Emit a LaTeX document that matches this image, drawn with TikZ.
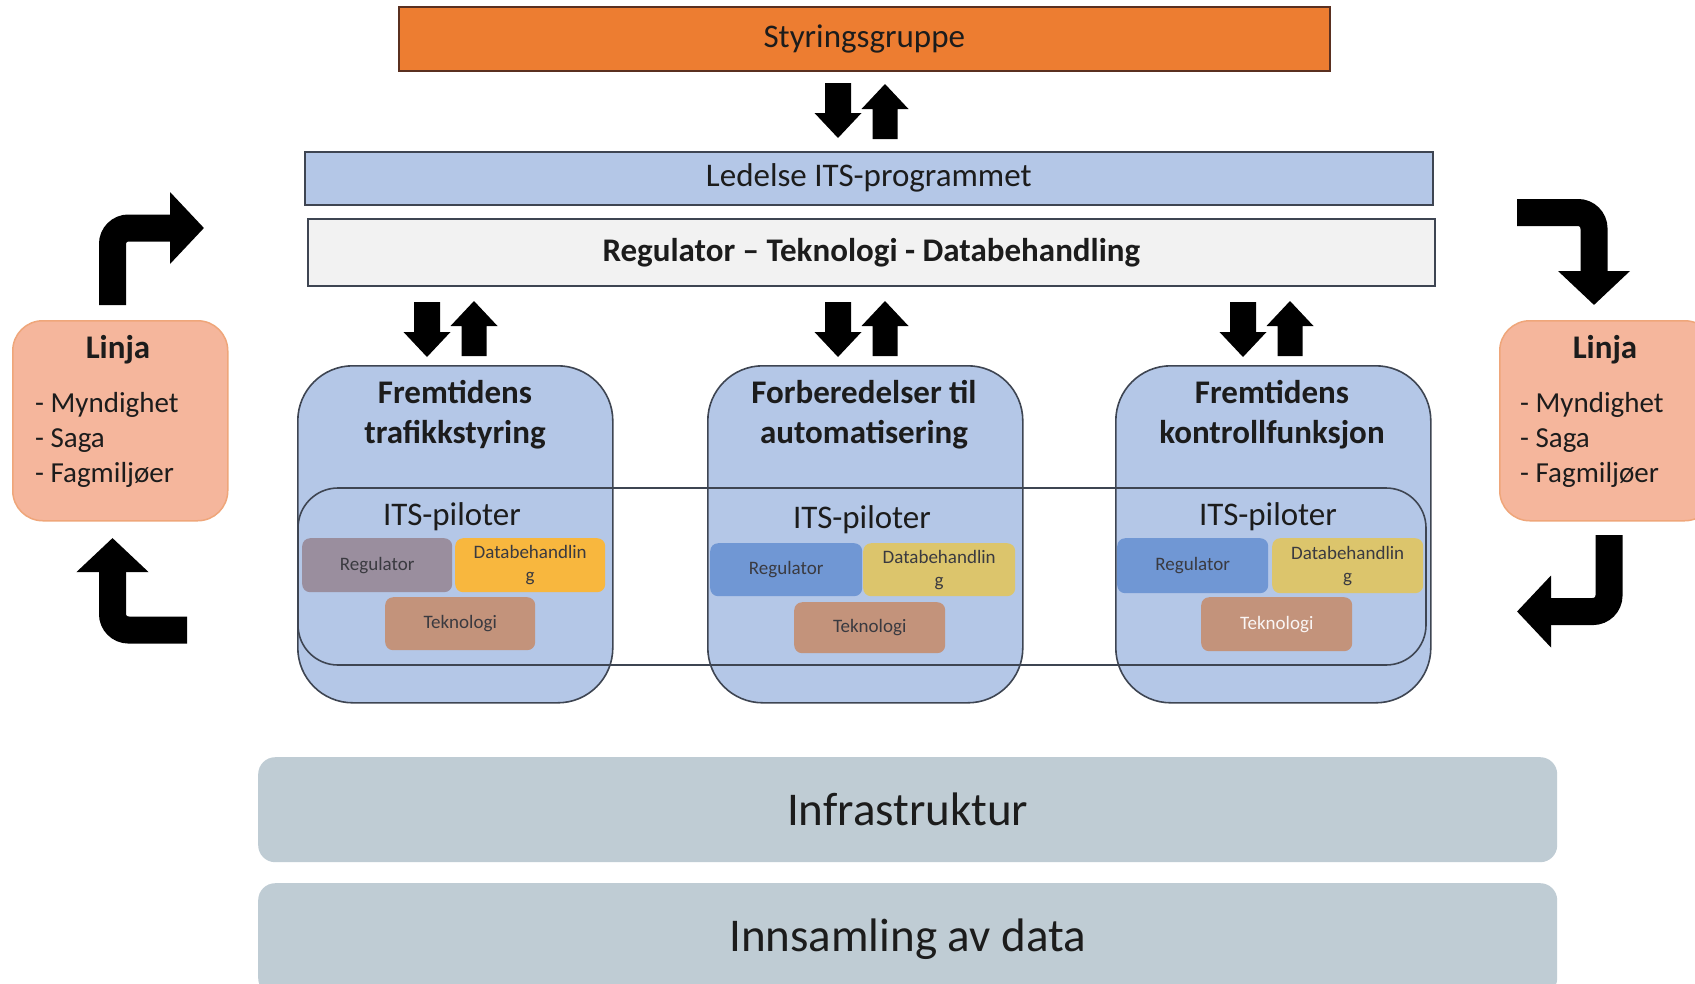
\documentclass[tikz,border=0pt]{standalone}
\usepackage{fontspec}
\setmainfont{Carlito}
\usetikzlibrary{arrows.meta}

\definecolor{orangeA}{HTML}{ED7D31}
\definecolor{orangeEdge}{HTML}{5A3020}
\definecolor{blueA}{HTML}{B4C7E7}
\definecolor{greyA}{HTML}{F2F2F2}
\definecolor{edge}{HTML}{3E4552}
\definecolor{peach}{HTML}{F5B69C}
\definecolor{peachEdge}{HTML}{EFA67A}
\definecolor{slate}{HTML}{BFCCD4}
\definecolor{regGrey}{HTML}{9A8E9E}
\definecolor{regBlue}{HTML}{7097D4}
\definecolor{dataGold}{HTML}{F8B73E}
\definecolor{dataYellow}{HTML}{DCC56C}
\definecolor{tekBrown}{HTML}{C3937B}
\definecolor{ink}{HTML}{1C1C1C}
\definecolor{smallink}{HTML}{3A3A40}

\newcommand{\fsz}[2]{\fontsize{#1pt}{#2pt}\selectfont}

\tikzset{
  plainbox/.style={draw=edge, line width=1.6pt, inner sep=0pt, anchor=north west, text=ink},
  progbox/.style={plainbox, fill=blueA, rounded corners=55pt,
    minimum width=315pt, minimum height=337pt},
  progtitle/.style={align=center, text=ink, font=\fsz{33}{40}\bfseries},
  pilottitle/.style={text=ink, font=\fsz{33}{40}},
  chip/.style={anchor=north west, inner sep=0pt, rounded corners=8pt,
    minimum width=150pt, minimum height=54pt, align=center,
    text=smallink, font=\fsz{19}{23}},
  linjabox/.style={anchor=north west, inner sep=0pt, rounded corners=30pt,
    fill=peach, draw=peachEdge, line width=1.5pt,
    minimum width=215pt, minimum height=200pt},
  groundbox/.style={anchor=north west, inner sep=0pt, rounded corners=17pt,
    fill=slate, minimum width=1299pt, minimum height=105pt,
    text=ink, font=\fsz{47}{56}},
  bentarrow/.style={line width=27pt, rounded corners=16pt,
    -{Triangle[length=34pt,width=70pt]}},
  downarrow/.pic={\fill[black] (-13,0) -- (13,0) -- (13,30) -- (23.5,30)
    -- (0,55) -- (-23.5,30) -- (-13,30) -- cycle;},
  uparrow/.pic={\fill[black] (-12.5,55) -- (12.5,55) -- (12.5,25) -- (23.5,25)
    -- (0,0) -- (-23.5,25) -- (-12.5,25) -- cycle;},
}

\begin{document}
\begin{tikzpicture}[x=1pt,y=-1pt]
\clip (0,0) rectangle (1695,983);
\fill[white] (0,0) rectangle (1695,983);

% steering group and programme management
\node[plainbox, draw=orangeEdge, fill=orangeA, minimum width=931pt, minimum height=64pt,
  font=\fsz{33}{40}] (styr) at (398,6) {Styringsgruppe};
\node[plainbox, fill=blueA, minimum width=1128pt, minimum height=53pt,
  font=\fsz{33}{40}] (ledelse) at (304,151) {Ledelse ITS-programmet};
\node[plainbox, fill=greyA, minimum width=1127pt, minimum height=67pt,
  font=\fsz{33}{40}\bfseries] (rtd) at (307,218) {Regulator -- Teknologi - Databehandling};

% two-way arrows
\pic at (838,83) {downarrow};
\pic at (885,84) {uparrow};
\foreach \cx in {451,862,1267}{
  \pic at (\cx-24,302) {downarrow};
  \pic at (\cx+23,301) {uparrow};
}

% the three programme areas
\node[progbox] (trafikk) at (297,365) {};
\node[progbox] (auto) at (707,365) {};
\node[progbox] (kontroll) at (1115,365) {};

% band of ITS pilots running through all areas
\draw[edge, line width=1.6pt, rounded corners=40pt] (298,488) rectangle (1426,665);

\node[progtitle] (t1) at (455,415) {Fremtidens\\trafikkstyring};
\node[progtitle] (t2) at (864,415) {Forberedelser til\\automatisering};
\node[progtitle] (t3) at (1272,415) {Fremtidens\\kontrollfunksjon};

\node[pilottitle] (p1) at (452,517) {ITS-piloter};
\node[pilottitle] (p2) at (862,520) {ITS-piloter};
\node[pilottitle] (p3) at (1268,517) {ITS-piloter};

% pilot components
\node[chip, fill=regGrey] (reg1) at (302,538) {Regulator};
\node[chip, fill=dataGold] (dat1) at (455,538) {Databehandlin\\g};
\node[chip, fill=tekBrown, minimum height=53pt] (tek1) at (385,597) {Teknologi};

\node[chip, fill=regBlue, minimum width=152pt, minimum height=53pt] (reg2) at (710,543) {Regulator};
\node[chip, fill=dataYellow, minimum width=152pt, minimum height=53pt] (dat2) at (863,543) {Databehandlin\\g};
\node[chip, fill=tekBrown, minimum width=151pt, minimum height=51pt] (tek2) at (794,602) {Teknologi};

\node[chip, fill=regBlue, minimum width=151pt, minimum height=55pt] (reg3) at (1117,538) {Regulator};
\node[chip, fill=dataYellow, minimum width=151pt, minimum height=55pt] (dat3) at (1272,538) {Databehandlin\\g};
\node[chip, fill=tekBrown, minimum width=151pt, text=white!92!tekBrown] (tek3) at (1201,597) {Teknologi};

% line organisation on both sides
\node[linjabox] (linjaL) at (12,320) {};
\node[text=ink, font=\fsz{33}{40}\bfseries] (linjaLt) at (118,350) {Linja};
\node[anchor=west, align=left, inner sep=0pt, text=ink, font=\fsz{29}{35}] (linjaLi) at (35,440)
  {- Myndighet\\- Saga\\- Fagmiljøer};

\node[linjabox] (linjaR) at (1499,320) {};
\node[text=ink, font=\fsz{33}{40}\bfseries] (linjaRt) at (1605,350) {Linja};
\node[anchor=west, align=left, inner sep=0pt, text=ink, font=\fsz{29}{35}] (linjaRi) at (1520,440)
  {- Myndighet\\- Saga\\- Fagmiljøer};

% circulation arrows
\draw[bentarrow] (112.5,305) -- (112.5,228) -- (204,228);
\draw[bentarrow] (187,630) -- (112.5,630) -- (112.5,538);
\draw[bentarrow] (1517,212.5) -- (1594,212.5) -- (1594,305);
\draw[bentarrow] (1609,535) -- (1609,611.5) -- (1517,611.5);

% foundation layers
\node[groundbox] (infra) at (258,757) {Infrastruktur};
\node[groundbox, minimum height=112pt] (data) at (258,883) {Innsamling av data};
\end{tikzpicture}
\end{document}
